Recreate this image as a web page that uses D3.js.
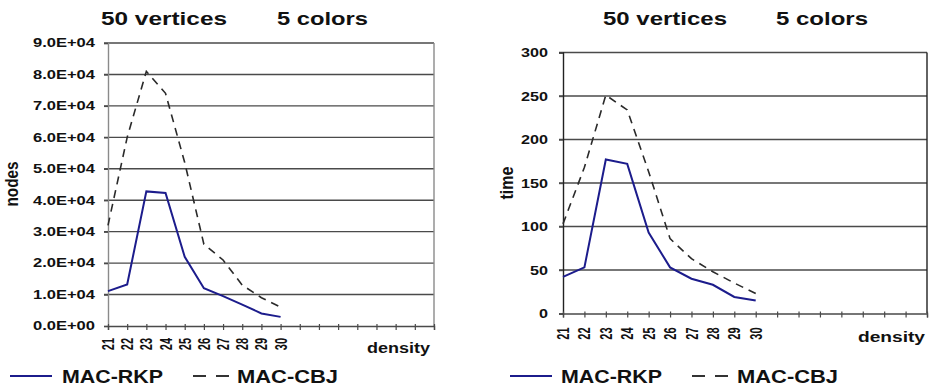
<!DOCTYPE html>
<html>
<head>
<meta charset="utf-8">
<script src="https://cdn.jsdelivr.net/npm/d3@7"></script>
<style>
    body { margin: 0; background: #fff; }
    svg { display: block; }
    text { font-family: "Liberation Sans", Arial, sans-serif; font-weight: bold; fill: #111; }
</style>
</head>
<body>
<svg width="931" height="389"></svg>
<script>
// category axis (only the first ten carry labels)
var axisCategories = ['21','22','23','24','25','26','27','28','29','30',
                      '31','32','33','34','35','36','37','38'];
var densities = ['21','22','23','24','25','26','27','28','29','30'];

// nodes chart
var nodesRKP = [11100, 13200, 42800, 42300, 22000, 12000, 9500, 6800, 4000, 2900];
var nodesCBJ = [32000, 60000, 81000, 74000, 52000, 26000, 21000, 13000, 9000, 6000];
var nodesTicks = [0, 10000, 20000, 30000, 40000, 50000, 60000, 70000, 80000, 90000];

// time chart
var timeRKP = [42, 53, 177, 172, 93, 53, 40, 33, 19, 15];
var timeCBJ = [103, 168, 251, 234, 163, 86, 63, 48, 35, 23];
var timeTicks = [0, 50, 100, 150, 200, 250, 300];

var seriesNames = ['MAC-RKP', 'MAC-CBJ'];
var titleLeft = '50 vertices', titleRight = '5 colors';

var svg = d3.select('svg');

// one panel of the figure
var drawChart = function(cfg) {
    var g = svg.append('g');

    var xScale = d3.scalePoint()
        .domain(axisCategories)
        .range([cfg.left, cfg.right])
        .padding(0);
    var yScale = d3.scaleLinear()
        .domain([0, cfg.ticks[cfg.ticks.length - 1]])
        .range([cfg.bottom, cfg.top]);

    // titles
    g.append('text')
        .attr('x', cfg.t1x).attr('y', 25)
        .attr('font-size', 19)
        .attr('textLength', cfg.t1w).attr('lengthAdjust', 'spacingAndGlyphs')
        .text(titleLeft);
    g.append('text')
        .attr('x', cfg.t2x).attr('y', 25)
        .attr('font-size', 19)
        .attr('textLength', cfg.t2w).attr('lengthAdjust', 'spacingAndGlyphs')
        .text(titleRight);

    // gridlines
    g.selectAll('.grid')
        .data(cfg.ticks.slice(1))
        .enter().append('line')
        .attr('x1', cfg.left - 4)
        .attr('x2', cfg.right)
        .attr('y1', function(d) { return yScale(d); })
        .attr('y2', function(d) { return yScale(d); })
        .attr('stroke', '#4a4a4a')
        .attr('stroke-width', 1.4);

    // right border
    g.append('line')
        .attr('x1', cfg.right).attr('x2', cfg.right)
        .attr('y1', cfg.top).attr('y2', cfg.bottom)
        .attr('stroke', cfg.frameColor).attr('stroke-width', 1.4);

    // y axis
    var yAxis = d3.axisLeft(yScale)
        .tickValues(cfg.ticks)
        .tickSize(4)
        .tickFormat(cfg.format);
    var yG = g.append('g')
        .attr('transform', 'translate(' + cfg.left + ',0)')
        .call(yAxis);
    yG.select('.domain').attr('stroke', cfg.frameColor).attr('stroke-width', 1.4);
    yG.selectAll('.tick line').attr('stroke', '#4a4a4a').attr('stroke-width', 1.4);
    yG.selectAll('.tick text')
        .attr('x', -cfg.labelGap)
        .attr('font-size', cfg.yFont)
        .attr('fill', '#111')
        .attr('font-family', '"Liberation Sans", Arial, sans-serif')
        .attr('textLength', function() { return this.textContent.length * cfg.yCharW; })
        .attr('lengthAdjust', 'spacingAndGlyphs');

    // x axis
    var xAxis = d3.axisBottom(xScale)
        .tickSize(4)
        .tickFormat(function(d) { return densities.indexOf(d) >= 0 ? d : ''; });
    var xG = g.append('g')
        .attr('transform', 'translate(0,' + cfg.bottom + ')')
        .call(xAxis);
    xG.select('.domain').attr('stroke', '#4a4a4a').attr('stroke-width', 1.4);
    xG.selectAll('.tick line')
        .attr('y1', -2).attr('y2', 4)
        .attr('stroke', '#4a4a4a').attr('stroke-width', 1.2);
    xG.selectAll('.tick text')
        .attr('y', null).attr('dy', '0.35em')
        .attr('font-size', 11)
        .attr('fill', '#111')
        .attr('font-family', '"Liberation Sans", Arial, sans-serif')
        .style('text-anchor', 'end')
        .attr('transform', 'translate(0,' + cfg.xLabelTop + ') scale(1.45,1) rotate(-90)');

    // axis titles
    g.append('text')
        .attr('x', cfg.dx).attr('y', cfg.dy)
        .attr('font-size', 14)
        .attr('textLength', cfg.dw).attr('lengthAdjust', 'spacingAndGlyphs')
        .text('density');
    g.append('text')
        .attr('transform', 'translate(' + cfg.yTitleX + ',' + cfg.yTitleY + ') scale(1.3,1) rotate(-90)')
        .attr('text-anchor', 'middle')
        .attr('font-size', 14)
        .attr('textLength', cfg.yTitleW).attr('lengthAdjust', 'spacingAndGlyphs')
        .text(cfg.yTitle);

    // series lines
    var line = d3.line()
        .x(function(d, i) { return xScale(densities[i]); })
        .y(function(d) { return yScale(d); });

    g.append('path')
        .datum(cfg.cbj)
        .attr('d', line)
        .attr('fill', 'none')
        .attr('stroke', '#2a2a2a')
        .attr('stroke-width', 1.6)
        .attr('stroke-dasharray', '8,6');
    g.append('path')
        .datum(cfg.rkp)
        .attr('d', line)
        .attr('fill', 'none')
        .attr('stroke', '#1c1c8c')
        .attr('stroke-width', 2);

    // legend
    var ly = 376;
    g.append('line')
        .attr('x1', cfg.lg[0]).attr('x2', cfg.lg[0] + 42)
        .attr('y1', ly).attr('y2', ly)
        .attr('stroke', '#1c1c8c').attr('stroke-width', 2);
    g.append('text')
        .attr('x', cfg.lg[1]).attr('y', 383)
        .attr('font-size', 19)
        .attr('textLength', 101).attr('lengthAdjust', 'spacingAndGlyphs')
        .text(seriesNames[0]);
    g.append('line')
        .attr('x1', cfg.lg[2]).attr('x2', cfg.lg[2] + 37)
        .attr('y1', ly).attr('y2', ly)
        .attr('stroke', '#333').attr('stroke-width', 1.8)
        .attr('stroke-dasharray', '13,10');
    g.append('text')
        .attr('x', cfg.lg[3]).attr('y', 383)
        .attr('font-size', 19)
        .attr('textLength', 101).attr('lengthAdjust', 'spacingAndGlyphs')
        .text(seriesNames[1]);
};

drawChart({
    left: 108, right: 434, top: 43, bottom: 326,
    ticks: nodesTicks,
    format: function(d) { return d === 0 ? '0.0E+00' : (d / 10000).toFixed(1) + 'E+04'; },
    rkp: nodesRKP, cbj: nodesCBJ,
    frameColor: '#8a8a8a',
    labelGap: 13, yFont: 12, yCharW: 8.86,
    xLabelTop: 12,
    t1x: 101, t1w: 126, t2x: 277, t2w: 91,
    dx: 367, dy: 353, dw: 63,
    yTitle: 'nodes', yTitleX: 18, yTitleY: 184, yTitleW: 45,
    lg: [10, 62, 193, 237]
});

drawChart({
    left: 563, right: 927, top: 52.5, bottom: 313.5,
    ticks: timeTicks,
    format: function(d) { return d; },
    rkp: timeRKP, cbj: timeCBJ,
    frameColor: '#222',
    labelGap: 15, yFont: 12.5, yCharW: 9,
    xLabelTop: 14,
    t1x: 603, t1w: 124, t2x: 776, t2w: 92,
    dx: 858, dy: 342, dw: 67,
    yTitle: 'time', yTitleX: 513, yTitleY: 183, yTitleW: 33,
    lg: [510, 561, 692, 737]
});
</script>
</body>
</html>
